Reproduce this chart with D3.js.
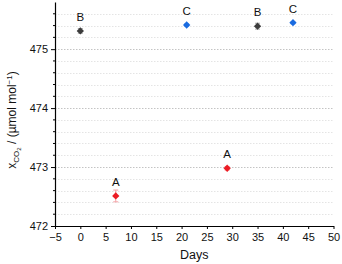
<!DOCTYPE html>
<html lang="en">
<head>
<meta charset="UTF-8">
<title>CO2 mole fraction</title>
<script src="https://cdn.jsdelivr.net/npm/d3@7"></script>
<style>
    body { margin: 0; background: #fff; }
    text { font-family: "Liberation Sans", Arial, sans-serif; }
</style>
</head>
<body>
<script>
    // data
    var days = [0, 7, 21, 29, 35, 42];
    var values = [475.31, 472.51, 475.41, 472.98, 475.39, 475.45];
    var errors = [0.04, 0.1, 0.02, 0.03, 0.05, 0.02];
    var groups = ["B", "A", "C", "A", "B", "C"];
    var xTicks = [-5, 0, 5, 10, 15, 20, 25, 30, 35, 40, 45, 50];
    var yTicks = [472, 473, 474, 475];

    var width = 342, height = 264;
    var margin = {top: 2, right: 8, bottom: 38, left: 55};

    var fill = {A: "#ec1c24", B: "#3c3c3c", C: "#1a6be0"};
    var errColor = {A: "#f4a0a4", B: "#a8a8a8", C: "#9cc0f0"};

    var svg = d3.select("body").append("svg")
        .attr("width", width)
        .attr("height", height);

    var x = d3.scaleLinear().domain([-5, 50]).range([margin.left, width - margin.right - 0.5]);
    var y = d3.scaleLinear().domain([472, 475.8]).range([height - margin.bottom, margin.top]);

    // grid lines every 0.2
    var minor = d3.range(472.2, 475.79, 0.2);
    svg.append("g").selectAll("line").data(minor).join("line")
        .attr("x1", x(-5)).attr("x2", x(50))
        .attr("y1", d => Math.round(y(d)) + 0.5).attr("y2", d => Math.round(y(d)) + 0.5)
        .attr("stroke", d => Math.abs(d - Math.round(d)) < 0.01 ? "#c4c4c4" : "#e4e4e4")
        .attr("stroke-width", 1)
        .attr("stroke-dasharray", "1.5,1.5");

    // axes
    var xAxis = d3.axisBottom(x).tickValues(xTicks).tickSize(3).tickSizeOuter(0);
    var yAxis = d3.axisLeft(y).tickValues(yTicks).tickFormat(d3.format("d")).tickSize(4).tickSizeOuter(0);

    var gx = svg.append("g")
        .attr("transform", "translate(0," + Math.round(y(472)) + ")")
        .call(xAxis);
    gx.selectAll("text").attr("font-size", "11px").attr("fill", "#111").attr("dy", "0.85em")
        .text(d => d < 0 ? "\u2212" + Math.abs(d) : d);

    var gy = svg.append("g")
        .attr("transform", "translate(" + x(-5) + ",0)")
        .call(yAxis);
    gy.selectAll("text").attr("font-size", "11px").attr("fill", "#111");

    // minor ticks on y axis
    gy.append("g").selectAll("line").data(minor.filter(d => Math.abs(d - Math.round(d)) > 0.01)).join("line")
        .attr("x1", -2).attr("x2", 0)
        .attr("y1", d => y(d)).attr("y2", d => y(d))
        .attr("stroke", "#000");

    svg.selectAll(".domain").attr("stroke", "#000").attr("stroke-width", 1.2);
    svg.selectAll(".tick line").attr("stroke", "#000");

    // axis titles
    svg.append("text")
        .attr("x", x(22.5))
        .attr("y", 259)
        .attr("text-anchor", "middle")
        .attr("font-size", "12.5px")
        .attr("fill", "#111")
        .text("Days");

    var yt = svg.append("text")
        .attr("transform", "translate(16," + 120 + ") rotate(-90)")
        .attr("text-anchor", "middle")
        .attr("font-size", "12px")
        .attr("fill", "#111");
    yt.append("tspan").text("x");
    yt.append("tspan").attr("font-size", "8px").attr("dy", "3").text("CO");
    yt.append("tspan").attr("font-size", "6px").attr("dy", "2").text("2");
    yt.append("tspan").attr("dy", "-5").text(" / (\u00b5mol mol");
    yt.append("tspan").attr("font-size", "8px").attr("dy", "-4").text("\u22121");
    yt.append("tspan").attr("dy", "4").text(")");

    var pts = days.map((d, i) => ({day: d, v: values[i], e: errors[i], g: groups[i]}));

    // error bars
    var eb = svg.append("g").selectAll("g").data(pts).join("g")
        .attr("stroke", d => errColor[d.g]).attr("stroke-width", 1);
    eb.append("line")
        .attr("x1", d => x(d.day)).attr("x2", d => x(d.day))
        .attr("y1", d => y(d.v - d.e)).attr("y2", d => y(d.v + d.e));
    eb.append("line")
        .attr("x1", d => x(d.day) - 2.5).attr("x2", d => x(d.day) + 2.5)
        .attr("y1", d => y(d.v + d.e)).attr("y2", d => y(d.v + d.e));
    eb.append("line")
        .attr("x1", d => x(d.day) - 2.5).attr("x2", d => x(d.day) + 2.5)
        .attr("y1", d => y(d.v - d.e)).attr("y2", d => y(d.v - d.e));

    // diamond markers
    var diamond = d3.symbol().type(d3.symbolDiamond2).size(34);
    svg.append("g").selectAll("path").data(pts).join("path")
        .attr("d", diamond)
        .attr("transform", d => "translate(" + x(d.day) + "," + y(d.v) + ")")
        .attr("fill", d => fill[d.g]);

    // group letters
    svg.append("g").selectAll("text").data(pts).join("text")
        .attr("x", d => x(d.day))
        .attr("y", d => y(d.v) - 10)
        .attr("text-anchor", "middle")
        .attr("font-size", "11.5px")
        .attr("fill", "#111")
        .text(d => d.g);
</script>
</body>
</html>
